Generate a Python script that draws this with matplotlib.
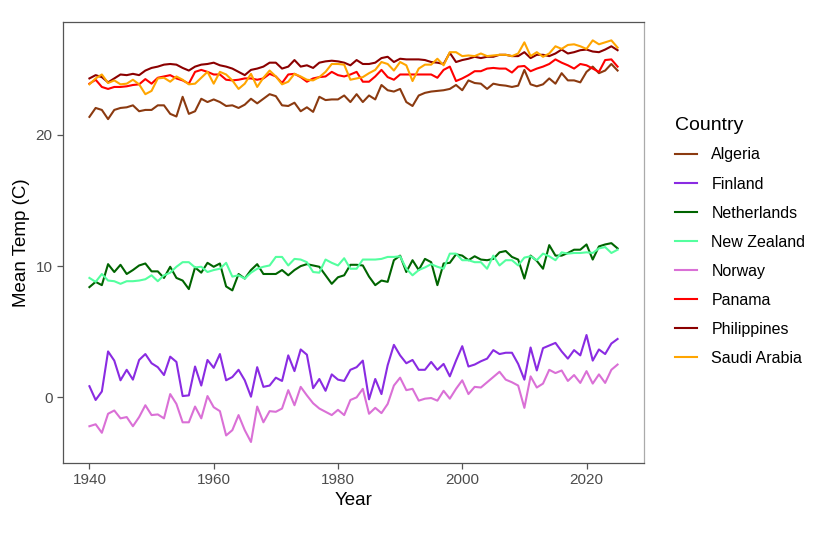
import matplotlib
matplotlib.use("Agg")
import matplotlib.pyplot as plt

plt.rcParams['font.family'] = ['Liberation Sans', 'DejaVu Sans']

years = list(range(1940, 2026))

algeria = [21.37, 22.05, 21.9, 21.2, 21.9, 22.05, 22.1, 22.25, 21.8, 21.9,
           21.9, 22.25, 22.25, 21.6, 21.4, 22.9, 21.6, 21.8, 22.75, 22.5,
           22.7, 22.5, 22.2, 22.25, 22.05, 22.3, 22.75, 22.4, 22.75, 23.1,
           22.95, 22.25, 22.2, 22.45, 21.8, 22.1, 21.75, 22.9, 22.65, 22.7,
           22.7, 23.0, 22.5, 23.1, 22.5, 23.0, 22.7, 23.8, 23.4, 23.3,
           23.5, 22.5, 22.2, 23.0, 23.2, 23.3, 23.35, 23.4, 23.5, 23.8,
           23.4, 24.15, 23.95, 23.9, 23.5, 23.9, 23.8, 23.75, 23.65, 23.75,
           24.95, 23.85, 23.7, 23.85, 24.3, 23.9, 24.7, 24.15, 24.15, 24.0,
           24.8, 25.2, 24.7, 24.9, 25.4, 24.9]

finland = [0.85, -0.2, 0.45, 3.5, 2.8, 1.3, 2.1, 1.35, 2.85, 3.3,
           2.6, 2.3, 1.7, 3.1, 2.7, 0.1, 0.15, 2.35, 0.9, 2.85,
           2.25, 3.3, 1.3, 1.55, 2.1, 1.3, 0.05, 2.3, 0.8, 0.9,
           1.5, 1.25, 3.2, 2.0, 3.65, 3.25, 0.7, 1.4, 0.5, 1.75,
           1.35, 1.25, 2.1, 2.3, 2.8, -0.15, 1.4, 0.25, 2.45, 4.0,
           3.2, 2.6, 2.85, 2.1, 2.1, 2.7, 2.1, 2.55, 1.6, 2.8,
           3.9, 2.35, 2.5, 2.75, 2.95, 3.6, 3.3, 3.4, 3.4, 2.55,
           1.35, 3.8, 2.05, 3.75, 3.95, 4.15, 3.5, 2.95, 3.6, 3.2,
           4.75, 2.8, 3.65, 3.3, 4.1, 4.45]

netherlands = [8.4, 8.8, 8.55, 10.15, 9.55, 10.1, 9.4, 9.7, 10.05, 10.2,
               9.6, 9.6, 9.1, 9.95, 9.1, 8.9, 8.25, 9.9, 9.5, 10.25,
               9.95, 10.2, 8.45, 8.15, 9.4, 9.05, 9.7, 10.15, 9.4, 9.4,
               9.4, 9.7, 9.3, 9.7, 10.0, 10.15, 10.05, 9.95, 9.3, 8.65,
               9.15, 9.3, 10.1, 10.1, 10.05, 9.2, 8.55, 8.9, 8.8, 10.45,
               10.8, 9.55, 10.45, 9.7, 10.55, 10.3, 8.55, 10.2, 10.25, 10.9,
               10.8, 10.45, 10.75, 10.5, 10.45, 10.55, 11.05, 11.15, 10.7, 10.5,
               9.05, 10.8, 10.4, 9.8, 11.6, 10.8, 10.8, 11.0, 11.25, 11.25,
               11.65, 10.5, 11.5, 11.65, 11.75, 11.35]

new_zealand = [9.1, 8.8, 9.4, 8.9, 8.85, 8.65, 8.85, 8.85, 8.9, 9.0,
               9.3, 8.85, 9.3, 9.5, 9.95, 10.3, 10.3, 9.9, 9.95, 9.55,
               9.7, 9.8, 10.25, 9.2, 9.3, 9.05, 9.5, 9.8, 9.95, 10.05,
               10.7, 10.7, 10.05, 10.55, 10.5, 10.3, 9.55, 9.5, 10.5, 10.25,
               10.05, 10.6, 9.8, 9.8, 10.5, 10.5, 10.5, 10.55, 10.7, 10.7,
               10.75, 9.8, 9.3, 9.7, 9.9, 10.15, 9.95, 9.8, 10.95, 10.95,
               10.45, 10.45, 10.3, 10.3, 9.8, 10.8, 10.05, 10.45, 10.45, 10.05,
               10.65, 10.75, 10.45, 10.95, 10.75, 10.45, 11.05, 10.95, 11.0, 11.0,
               11.05, 11.0, 11.35, 11.45, 11.0, 11.25]

norway = [-2.2, -2.05, -2.7, -1.25, -1.0, -1.6, -1.5, -2.2, -1.5, -0.6,
          -1.35, -1.3, -1.6, 0.25, -0.5, -1.9, -1.9, -0.7, -1.6, 0.1,
          -0.75, -1.05, -2.9, -2.5, -1.35, -2.5, -3.4, -0.7, -1.9, -1.05,
          -1.1, -0.85, 0.55, -0.6, 0.8, 0.15, -0.45, -0.85, -1.1, -1.35,
          -0.95, -1.35, -0.2, 0.0, 0.65, -1.25, -0.8, -1.2, -0.5, 0.9,
          1.5, 0.55, 0.65, -0.25, -0.1, -0.05, -0.25, 0.5, -0.1, 0.65,
          1.3, 0.25, 0.8, 0.75, 1.15, 1.55, 1.95, 1.35, 1.15, 0.9,
          -0.8, 1.6, 0.75, 1.05, 2.1, 1.85, 2.05, 1.25, 1.7, 1.1,
          2.0, 1.05, 1.75, 1.1, 2.1, 2.5]

panama = [23.9, 24.2, 23.65, 23.5, 23.65, 23.65, 23.7, 23.8, 23.85, 24.25,
          23.9, 24.35, 24.45, 24.55, 24.3, 24.15, 23.9, 24.8, 24.95, 24.8,
          24.6, 24.6, 24.2, 24.15, 24.2, 24.3, 24.3, 24.2, 24.3, 24.65,
          24.45, 23.95, 24.6, 24.65, 24.4, 24.05, 24.3, 24.4, 24.45, 24.8,
          24.55, 24.45, 24.6, 24.8, 24.05, 24.05, 24.45, 24.95, 24.4, 24.2,
          24.6, 24.6, 24.6, 24.6, 24.6, 24.6, 24.35, 24.95, 25.2, 24.1,
          24.3, 24.55, 24.85, 24.85, 25.05, 25.1, 25.05, 25.05, 24.75, 25.2,
          25.25, 24.85, 25.05, 25.2, 25.4, 25.75, 25.5, 25.3, 25.05, 25.4,
          25.3, 25.05, 24.8, 25.7, 25.75, 25.2]

philippines = [24.3, 24.55, 24.4, 24.0, 24.3, 24.6, 24.55, 24.65, 24.55, 24.9,
               25.1, 25.2, 25.35, 25.4, 25.35, 25.1, 24.9, 25.2, 25.35, 25.4,
               25.5, 25.3, 25.2, 25.05, 24.8, 24.55, 24.95, 25.05, 25.2, 25.5,
               25.5, 25.05, 25.2, 25.7, 25.2, 25.3, 25.1, 25.5, 25.6, 25.65,
               25.6, 25.5, 25.3, 25.7, 25.4, 25.4, 25.5, 25.85, 25.95, 25.55,
               25.8, 25.75, 25.75, 25.75, 25.7, 25.55, 25.5, 25.4, 26.25, 25.55,
               25.7, 25.8, 25.95, 25.85, 25.95, 25.95, 26.1, 26.1, 26.0, 26.0,
               26.3, 25.85, 26.1, 26.1, 26.0, 26.2, 26.5, 26.2, 26.3, 26.45,
               26.5, 26.35, 26.3, 26.5, 26.75, 26.45]

saudi_arabia = [23.85, 24.3, 24.6, 23.95, 24.15, 23.85, 23.9, 24.2, 23.85, 23.1,
                23.35, 24.3, 24.35, 24.05, 24.45, 24.2, 23.85, 23.9, 24.35, 24.8,
                23.9, 24.8, 24.6, 24.15, 23.5, 23.9, 24.65, 23.65, 24.35, 24.9,
                24.45, 23.85, 24.05, 24.65, 24.45, 24.2, 24.15, 24.4, 24.8, 25.4,
                25.4, 25.35, 24.2, 24.3, 24.4, 24.7, 24.95, 25.55, 25.4, 24.9,
                25.55, 25.3, 24.1, 25.05, 25.35, 25.35, 25.8, 25.3, 26.3, 26.3,
                26.0, 26.05, 26.0, 26.2, 26.0, 26.05, 26.1, 26.1, 26.0, 26.2,
                27.05, 26.0, 26.3, 25.95, 26.2, 26.75, 26.55, 26.85, 26.9, 26.75,
                26.55, 27.2, 26.9, 27.05, 27.2, 26.65]

countries = ["Algeria", "Finland", "Netherlands", "New Zealand",
             "Norway", "Panama", "Philippines", "Saudi Arabia"]
series = [algeria, finland, netherlands, new_zealand,
          norway, panama, philippines, saudi_arabia]
colors = ["#8B3A10", "#8A2BE2", "#006400", "#54FF9F",
          "#DA70D6", "#FF0000", "#8B0000", "#FFA500"]

fig = plt.figure(figsize=(8.27, 5.35), dpi=100)
ax = fig.add_axes([0.0762, 0.1346, 0.7025, 0.8243])

for name, vals, col in zip(countries, series, colors):
    ax.plot(years, vals, color=col, linewidth=1.5, label=name)

ax.set_xlim(1935.75, 2029.25)
ax.set_ylim(-5.0, 28.6)
ax.set_xticks([1940, 1960, 1980, 2000, 2020])
ax.set_yticks([0, 10, 20])

for side in ["left", "bottom", "top", "right"]:
    ax.spines[side].set_color("#555555")
    ax.spines[side].set_linewidth(0.9)
ax.spines["right"].set_color("#aaaaaa")

ax.tick_params(axis="both", direction="out", length=4, width=0.9,
               color="#555555", labelcolor="#4d4d4d", labelsize=11)
ax.set_xlabel("Year", fontsize=13.5, color="black", labelpad=3)
ax.set_ylabel("Mean Temp (C)", fontsize=13.5, color="black", labelpad=4)

# legend to the right of the panel, ggplot style
leg = ax.legend(loc="upper left", bbox_to_anchor=(1.043, 0.80),
                frameon=False, title="Country", fontsize=11.5,
                title_fontsize=14, handlelength=1.38, handletextpad=0.88,
                labelspacing=0.88, alignment="left", borderaxespad=0)
leg._legend_box.sep = 10

fig.savefig("out.png", dpi=100)
